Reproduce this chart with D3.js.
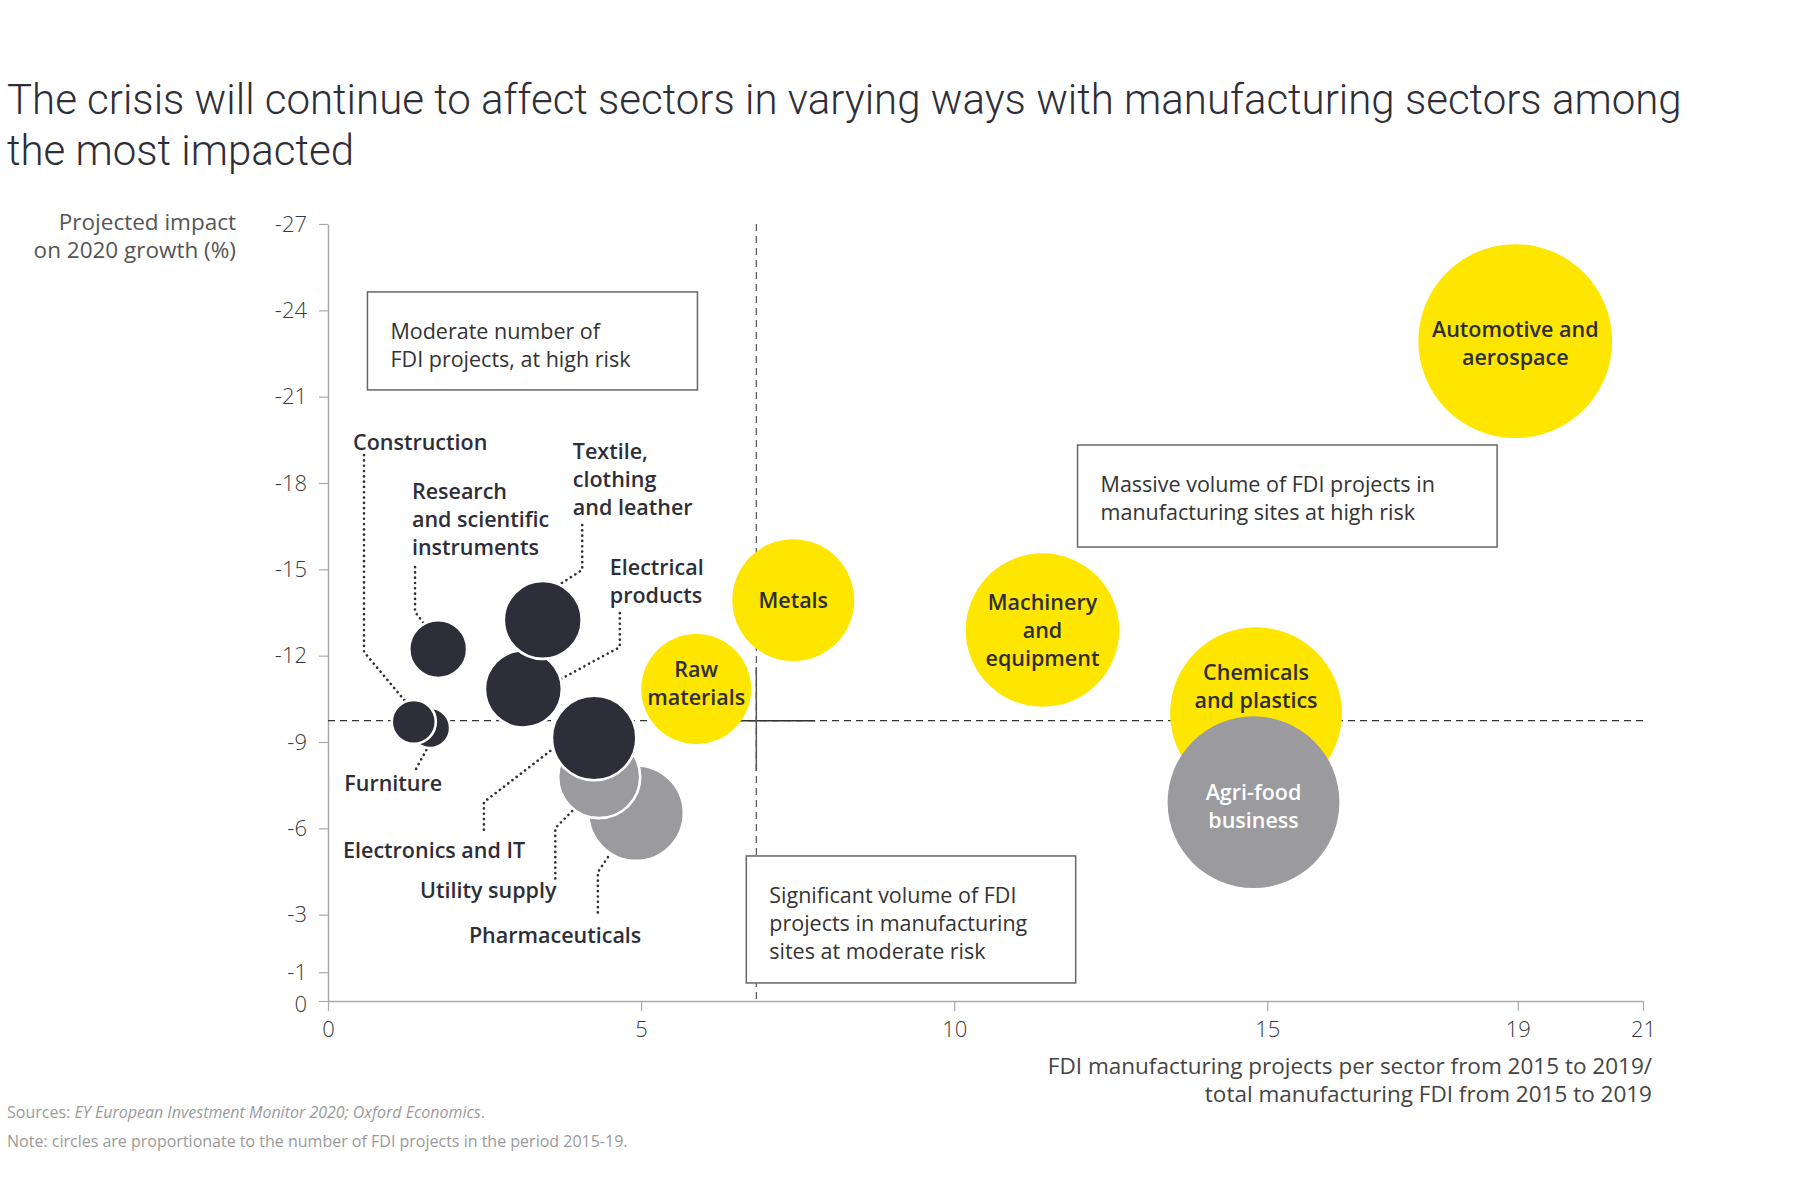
<!DOCTYPE html>
<html>
<head>
<meta charset="utf-8">
<script src="https://cdn.jsdelivr.net/npm/d3@7"></script>
<style>
  body { margin: 0; background: #fff; }
  text { font-family: "Open Sans", Roboto, sans-serif; }
</style>
</head>
<body>
<div id="chart"></div>
<script>
// --- data ---
// sectors listed in drawing order (back to front)
var sectors = ["Furniture", "Construction", "Research and scientific instruments",
  "Electrical products", "Textile, clothing and leather", "Pharmaceuticals",
  "Utility supply", "Electronics and IT", "Raw materials", "Metals",
  "Machinery and equipment", "Chemicals and plastics", "Agri-food business",
  "Automotive and aerospace"];
// x: FDI manufacturing projects per sector / total manufacturing FDI
var share = [1.63, 1.37, 1.76, 3.12, 3.43, 4.92, 4.33, 4.25, 5.88, 7.43, 11.41, 14.82, 14.78, 18.96];
// y: projected impact on 2020 growth (%)
var impact = [-9.49, -9.70, -12.23, -10.84, -13.24, -6.53, -7.78, -9.14, -10.84, -13.93, -12.89, -10.0, -6.91, -22.93];
// circle size: number of FDI projects (relative)
var projects = [0.81, 0.98, 1.69, 2.99, 3.06, 4.6, 3.4, 3.6, 6.1, 7.5, 11.9, 14.9, 14.9, 18.96];
var group = ["dark", "dark", "dark", "dark", "dark", "gray", "gray", "dark",
  "yellow", "yellow", "yellow", "yellow", "gray", "yellow"];

var yTicks = [-27, -24, -21, -18, -15, -12, -9, -6, -3, -1, 0];
var xTicks = [0, 5, 10, 15, 19, 21];
var splitX = 6.84, splitY = -9.74;

var colors = { dark: "#2e2e38", gray: "#9a9a9f", yellow: "#ffe600" };

var svg = d3.select("#chart").append("svg")
    .attr("width", 1800)
    .attr("height", 1200)
    .style("background", "#fff");

var x = d3.scaleLinear().domain([0, 21]).range([328, 1643]);
var y = d3.scaleLinear().domain([0, -27]).range([1001, 224]);
var r = d3.scaleSqrt().domain([0, 19]).range([0, 97]);

// title
svg.append("text")
    .attr("x", 7).attr("y", 0)
    .attr("fill", "#2e2e38")
    .style("font-family", "Roboto, sans-serif")
    .style("font-size", "42px")
    .style("font-weight", 300)
    .selectAll("tspan")
    .data(["The crisis will continue to affect sectors in varying ways with manufacturing sectors among",
           "the most impacted"])
    .join("tspan")
    .attr("x", 7)
    .attr("y", function(d, i) { return 114 + i * 51; })
    .text(function(d) { return d; });

// axes
var yAxis = svg.append("g")
    .attr("transform", "translate(" + x(0) + ",0)")
    .call(d3.axisLeft(y).tickValues(yTicks).tickSize(9).tickSizeOuter(0).tickPadding(12)
      .tickFormat(function(d) { return String(d); }));
var xAxis = svg.append("g")
    .attr("transform", "translate(0," + y(0) + ")")
    .call(d3.axisBottom(x).tickValues(xTicks).tickSize(10).tickSizeOuter(0).tickPadding(10)
      .tickFormat(function(d) { return String(d); }));

[yAxis, xAxis].forEach(function(a) {
  a.select(".domain").attr("stroke", "#aaa").attr("stroke-width", 1.5);
  a.selectAll(".tick line").attr("stroke", "#aaa").attr("stroke-width", 1.2);
  a.selectAll(".tick text")
    .attr("fill", "#3a3a3a")
    .style("font-size", "22px")
    .style("font-weight", 300)
    .style("font-family", "'Open Sans', sans-serif");
});
// the 0 and -1 labels sit close together; nudge 0 down a little
yAxis.selectAll(".tick text").filter(function(d) { return d === 0; }).attr("y", 3);

// axis titles
svg.append("text")
    .attr("text-anchor", "end")
    .attr("fill", "#555")
    .style("font-size", "22.5px")
    .selectAll("tspan")
    .data(["Projected impact", "on 2020 growth (%)"])
    .join("tspan")
    .attr("x", 236)
    .attr("y", function(d, i) { return 230 + i * 28; })
    .text(function(d) { return d; });

svg.append("text")
    .attr("text-anchor", "end")
    .attr("fill", "#444")
    .style("font-size", "22.5px")
    .selectAll("tspan")
    .data(["FDI manufacturing projects per sector from 2015 to 2019/",
           "total manufacturing FDI from 2015 to 2019"])
    .join("tspan")
    .attr("x", 1652)
    .attr("y", function(d, i) { return 1074 + i * 28; })
    .text(function(d) { return d; });

// quadrant lines
svg.append("line")
    .attr("x1", x(0)).attr("x2", x(21))
    .attr("y1", y(splitY)).attr("y2", y(splitY))
    .attr("stroke", "#333").attr("stroke-width", 1.2)
    .attr("stroke-dasharray", "7,5");
svg.append("line")
    .attr("x1", x(splitX)).attr("x2", x(splitX))
    .attr("y1", y(-27)).attr("y2", y(0))
    .attr("stroke", "#555").attr("stroke-width", 1.2)
    .attr("stroke-dasharray", "7,5");
// solid cross at the split point
svg.append("line")
    .attr("x1", x(6.0)).attr("x2", x(7.78))
    .attr("y1", y(splitY)).attr("y2", y(splitY))
    .attr("stroke", "#333").attr("stroke-width", 1.5);
svg.append("line")
    .attr("x1", x(splitX)).attr("x2", x(splitX))
    .attr("y1", y(-11.6)).attr("y2", y(-8.0))
    .attr("stroke", "#555").attr("stroke-width", 1.5);

// annotation boxes (corners in data units)
var boxes = [
  { x0: 0.63, x1: 5.9, y0: -24.64, lines: ["Moderate number of", "FDI projects, at high risk"], h: 98 },
  { x0: 11.97, x1: 18.67, y0: -19.32, lines: ["Massive volume of FDI projects in", "manufacturing sites at high risk"], h: 102 },
  { x0: 6.68, x1: 11.94, y0: -5.04, lines: ["Significant volume of FDI", "projects in manufacturing", "sites at moderate risk"], h: 127 }
];
boxes.forEach(function(b) {
  svg.append("rect")
      .attr("x", x(b.x0)).attr("y", y(b.y0))
      .attr("width", x(b.x1) - x(b.x0)).attr("height", b.h)
      .attr("fill", "#fff")
      .attr("stroke", "#666").attr("stroke-width", 1.5);
  svg.append("text")
      .attr("fill", "#333")
      .style("font-size", "21.5px")
      .style("font-weight", 400)
      .selectAll("tspan")
      .data(b.lines)
      .join("tspan")
      .attr("x", x(b.x0) + 23)
      .attr("y", function(d, i) { return y(b.y0) + 47 + i * 28; })
      .text(function(d) { return d; });
});

// leader lines for the outside labels (data units)
var leaders = [
  [[0.575, -18.97], [0.575, -12.13], [1.26, -10.35]],
  [[1.39, -15.08], [1.39, -13.52], [1.55, -13.06]],
  [[4.06, -16.54], [4.06, -14.98], [3.71, -14.49]],
  [[4.66, -13.48], [4.66, -12.30], [3.72, -11.19]],
  [[1.57, -8.72], [1.37, -7.92]],
  [[3.55, -8.69], [2.49, -6.91], [2.49, -5.94]],
  [[3.90, -6.60], [3.63, -6.01], [3.63, -4.20]],
  [[4.47, -5.00], [4.31, -4.48], [4.31, -2.92]]
];
var line = d3.line().x(function(d) { return x(d[0]); }).y(function(d) { return y(d[1]); });
svg.selectAll("path.leader")
    .data(leaders)
    .join("path")
    .attr("class", "leader")
    .attr("d", line)
    .attr("fill", "none")
    .attr("stroke", "#2e2e38")
    .attr("stroke-width", 2.6)
    .attr("stroke-linecap", "round")
    .attr("stroke-dasharray", "0.1,5.2");

// bubbles
var rows = sectors.map(function(s, i) {
  return { name: s, x: share[i], y: impact[i], p: projects[i], g: group[i] };
});
svg.selectAll("circle.bubble")
    .data(rows)
    .join("circle")
    .attr("class", "bubble")
    .attr("cx", function(d) { return x(d.x); })
    .attr("cy", function(d) { return y(d.y); })
    .attr("r", function(d) { return r(d.p); })
    .attr("fill", function(d) { return colors[d.g]; })
    .attr("stroke", function(d) { return (d.g != "yellow" && d.p < 8) ? "#fff" : "none"; })
    .attr("stroke-width", 2.6);

// labels inside the big circles
var inside = {
  "Raw materials": { lines: ["Raw", "materials"], dy: -6 },
  "Metals": { lines: ["Metals"], dy: 0 },
  "Machinery and equipment": { lines: ["Machinery", "and", "equipment"], dy: 0 },
  "Chemicals and plastics": { lines: ["Chemicals", "and plastics"], dy: -27 },
  "Agri-food business": { lines: ["Agri-food", "business"], dy: 4 },
  "Automotive and aerospace": { lines: ["Automotive and", "aerospace"], dy: 2 }
};
rows.filter(function(d) { return inside[d.name]; }).forEach(function(d) {
  var lab = inside[d.name];
  var n = lab.lines.length;
  svg.append("text")
      .attr("text-anchor", "middle")
      .attr("fill", d.g == "gray" ? "#fff" : "#2e2e38")
      .style("font-size", "21.5px")
      .style("font-weight", 600)
      .selectAll("tspan")
      .data(lab.lines)
      .join("tspan")
      .attr("x", x(d.x))
      .attr("y", function(t, i) { return y(d.y) + lab.dy + 8 + (i - (n - 1) / 2) * 28; })
      .text(function(t) { return t; });
});

// labels outside the small circles (anchor in data units)
var outside = [
  { lines: ["Construction"], at: [0.40, -19.15] },
  { lines: ["Research", "and scientific", "instruments"], at: [1.34, -17.44] },
  { lines: ["Textile,", "clothing", "and leather"], at: [3.91, -18.83] },
  { lines: ["Electrical", "products"], at: [4.50, -14.80] },
  { lines: ["Furniture"], at: [0.26, -7.30] },
  { lines: ["Electronics and IT"], at: [0.24, -4.97] },
  { lines: ["Utility supply"], at: [1.47, -3.58] },
  { lines: ["Pharmaceuticals"], at: [2.25, -2.02] }
];
outside.forEach(function(o) {
  svg.append("text")
      .attr("fill", "#2e2e38")
      .style("font-size", "21.5px")
      .style("font-weight", 600)
      .selectAll("tspan")
      .data(o.lines)
      .join("tspan")
      .attr("x", x(o.at[0]))
      .attr("y", function(t, i) { return y(o.at[1]) + i * 28; })
      .text(function(t) { return t; });
});

// footer
var src = svg.append("text")
    .attr("x", 7).attr("y", 1118)
    .attr("fill", "#9a9a9a")
    .style("font-size", "16px");
src.append("tspan").text("Sources: ");
src.append("tspan").style("font-style", "italic").text("EY European Investment Monitor 2020; Oxford Economics");
src.append("tspan").text(".");

svg.append("text")
    .attr("x", 7).attr("y", 1147)
    .attr("fill", "#9a9a9a")
    .style("font-size", "16px")
    .text("Note: circles are proportionate to the number of FDI projects in the period 2015-19.");
</script>
</body>
</html>
